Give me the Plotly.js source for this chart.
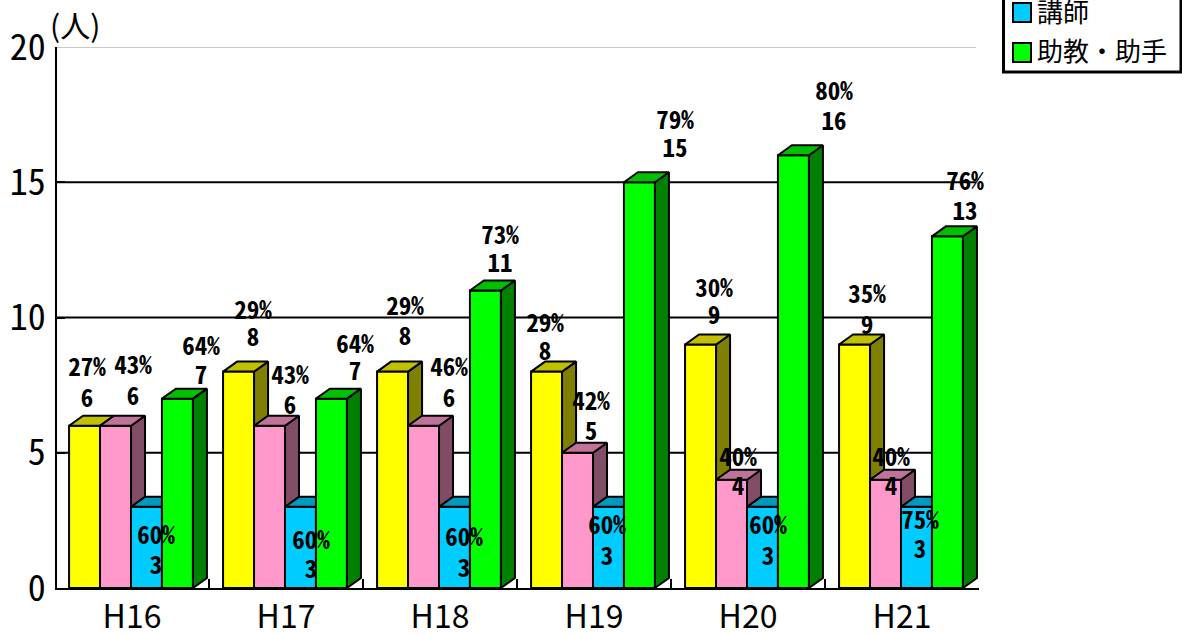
<!DOCTYPE html>
<html><head><meta charset="utf-8">
<script src="https://cdn.plot.ly/plotly-3.0.1.min.js"></script>
<style>html,body{margin:0;padding:0;background:#fff;overflow:hidden}#c{width:1182px;height:635px}
.ytick text,.textpoint text{font-feature-settings:"hwid" 1;}
</style>
</head><body><div id="c"></div>
<script>
// ---- data ----
const categories = ['H16','H17','H18','H19','H20','H21'];
const yellowValues = [6,8,8,8,9,9];
const pinkValues   = [6,6,6,5,4,4];
const blueValues   = [3,3,3,3,3,3];
const greenValues  = [7,7,11,15,16,13];
const yellowPct = ['27%','29%','29%','29%','30%','35%'];
const pinkPct   = ['43%','43%','46%','42%','40%','40%'];
const bluePct   = ['60%','60%','60%','60%','60%','75%'];
const greenPct  = ['64%','64%','73%','79%','80%','76%'];
const yTicks = [0,5,10,15,20];
const legendNames = ['講師','助教・助手'];

// ---- label placement (page pixels: x, pct y, value y) ----
const yellowLabelAt = [[87,367,398],[253,310,337],[405,306,336],[545,323,351],[714,288,315],[867,294,325]];
const pinkLabelAt   = [[133,365,396],[290,375,405],[449,367,398],[591,401,431],[738,457,486],[891,457,486]];
const blueLabelAt   = [[156,535,565],[311,540,569],[464,537,568],[607,525,556],[768,525,556],[920,520,549]];
const greenLabelAt  = [[201,346,375],[355,344,371],[500,235,263],[675,120,148],[834,91,121],[965,181,211]];
const labelNudge = 2.5;

// ---- geometry ----
const X0=55,L=57,R=979,T=47,B=588,W=1182,H=635;
const catPx=(R-X0)/6, unitPx=(B-T)/20;
const pxX=p=>(p-X0)/catPx-0.5, pxY=p=>(B-p)/unitPx;
const paperX=p=>(p-L)/(R-L), paperY=p=>(B-p)/(B-T);
const barW=31/catPx, depthX=14/catPx, depthY=10/unitPx;
const BLK='#000';
const series=[
 {v:yellowValues,off:-0.308,front:'#FFFF00',side:'#808000',top:'#C0C000'},
 {v:pinkValues,  off:-0.107,front:'#FF99CC',side:'#804C66',top:'#C0739A'},
 {v:blueValues,  off:0.094, front:'#00CCFF',side:'#006680',top:'#0099C0'},
 {v:greenValues, off:0.295, front:'#00FF00',side:'#008000',top:'#00C000'}
];
const traces=[];
series.forEach((s,k)=>{
  const xa=k?'x'+(k+1):'x', ya=k?'y'+(k+1):'y';
  const sx=[],sy=[],tx=[],ty=[];
  s.v.forEach((v,i)=>{
    const l=i+s.off-barW/2,r=i+s.off+barW/2;
    sx.push(r,r+depthX,r+depthX,r,r,null); sy.push(0,depthY,v+depthY,v,0,null);
    tx.push(l,l+depthX,r+depthX,r,l,null); ty.push(v,v+depthY,v+depthY,v,v,null);
  });
  const poly=(x,y,c)=>({type:'scatter',mode:'lines',x,y,xaxis:xa,yaxis:ya,fill:'toself',fillcolor:c,
    line:{color:BLK,width:2},hoverinfo:'skip',showlegend:false,cliponaxis:false});
  traces.push(poly(sx,sy,s.side),poly(tx,ty,s.top));
  traces.push({type:'bar',x:s.v.map((_,i)=>i+s.off),y:s.v,width:barW,xaxis:xa,yaxis:ya,
    marker:{color:s.front,line:{color:BLK,width:2}},hoverinfo:'skip',showlegend:false});
});
const cjk='"Noto Sans CJK JP",sans-serif';
const labelFont={family:cjk,size:25,color:'#000',weight:700};
[[yellowPct,yellowValues,yellowLabelAt],[pinkPct,pinkValues,pinkLabelAt],[bluePct,blueValues,blueLabelAt],[greenPct,greenValues,greenLabelAt]].forEach(([p,v,at])=>{
  traces.push({type:'scatter',mode:'text',xaxis:'x5',yaxis:'y5',x:at.map(a=>pxX(a[0])),y:at.map(a=>pxY(a[1]+labelNudge)),text:p,
    textposition:'middle center',textfont:labelFont,hoverinfo:'skip',showlegend:false,cliponaxis:false});
  traces.push({type:'scatter',mode:'text',xaxis:'x5',yaxis:'y5',x:at.map(a=>pxX(a[0])),y:at.map(a=>pxY(a[2]+labelNudge)),text:v.map(String),
    textposition:'middle center',textfont:labelFont,hoverinfo:'skip',showlegend:false,cliponaxis:false});
});

const xr=[pxX(L),5.5], yr=[0,20];
const hiddenX=o=>({overlaying:'x',range:xr,visible:false,anchor:o});
const hiddenY=o=>({overlaying:'y',range:yr,visible:false,anchor:o});
const bounds=categories.map((_,i)=>i+0.5);

const shapes=yTicks.filter(t=>t>0).map(t=>({type:'line',layer:'below',xref:'x',yref:'y',x0:xr[0],x1:5.48,y0:t,y1:t,
  line:{color:t===20?'#c8c8c8':'#000',width:2}}));
shapes.push({type:'rect',xref:'paper',yref:'paper',x0:paperX(1003.5),x1:paperX(1181),y0:paperY(72),y1:paperY(-20),line:{color:'#000',width:3},fillcolor:'#fff'});
[[series[2].front,12.5],[series[3].front,52.5]].forEach(([c,cy])=>{
  shapes.push({type:'rect',xref:'paper',yref:'paper',x0:paperX(1013),x1:paperX(1031),y0:paperY(cy+9.5),y1:paperY(cy-9.5),line:{color:'#000',width:2},fillcolor:c});
});
const annotations=[
 {xref:'paper',yref:'paper',x:paperX(75),y:paperY(24),text:'(人)',showarrow:false,font:{family:cjk,size:30,color:'#000'},xanchor:'center',yanchor:'middle'},
 {xref:'paper',yref:'paper',x:paperX(1037),y:paperY(10),text:legendNames[0],showarrow:false,font:{family:cjk,size:26,color:'#000'},xanchor:'left',yanchor:'middle',xshift:-2},
 {xref:'paper',yref:'paper',x:paperX(1037),y:paperY(49),text:legendNames[1],showarrow:false,font:{family:cjk,size:26,color:'#000'},xanchor:'left',yanchor:'middle',xshift:-2}
];
const layout={
 width:W,height:H,margin:{l:L,r:W-R,t:T,b:H-B,pad:0},paper_bgcolor:'#fff',plot_bgcolor:'rgba(0,0,0,0)',
 barmode:'overlay',showlegend:false,shapes,annotations,
 xaxis:{range:xr,tickmode:'array',tickvals:categories.map((_,i)=>i),ticktext:categories,ticks:'',showgrid:false,zeroline:false,
   showline:true,linecolor:'#000',linewidth:2,ticklabelstandoff:0,tickfont:{family:cjk,size:32,color:'#000'}},
 yaxis:{range:yr,tickmode:'array',tickvals:yTicks,ticktext:yTicks.map(String),ticks:'inside',ticklen:8,tickwidth:2,tickcolor:'#000',showgrid:false,zeroline:false,
   showline:true,linecolor:'#000',linewidth:2,ticklabelstandoff:2,tickfont:{family:cjk,size:36,color:'#000'}},
 xaxis2:hiddenX('y2'),yaxis2:hiddenY('x2'),
 xaxis3:hiddenX('y3'),yaxis3:hiddenY('x3'),
 xaxis4:hiddenX('y4'),yaxis4:hiddenY('x4'),
 xaxis5:{overlaying:'x',range:xr,anchor:'y5',side:'bottom',tickmode:'array',tickvals:bounds,showticklabels:false,ticks:'inside',ticklen:9,tickwidth:2,tickcolor:'#000',showgrid:false,zeroline:false,showline:false},
 yaxis5:hiddenY('x5')
};
Plotly.newPlot('c',traces,layout,{displayModeBar:false,staticPlot:true});
</script></body></html>
